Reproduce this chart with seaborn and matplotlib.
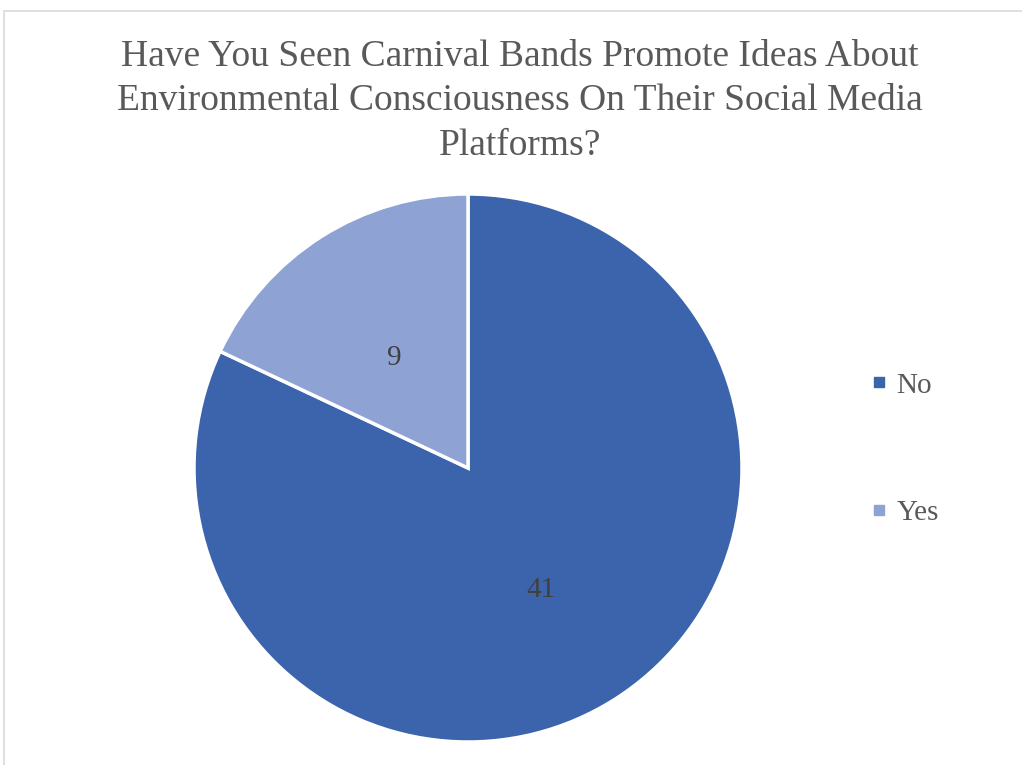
import matplotlib
matplotlib.use("Agg")
import matplotlib.pyplot as plt
import seaborn as sns
from matplotlib.patches import Rectangle
from matplotlib.lines import Line2D

categories = ["No", "Yes"]
values = [41, 9]
colors = ["#3C64AD", "#8FA2D4"]
title = "Have You Seen Carnival Bands Promote Ideas About\nEnvironmental Consciousness On Their Social Media\nPlatforms?"

sns.set_theme(style="white")
plt.rcParams['font.family'] = ['Liberation Serif', 'DejaVu Serif']

fig = plt.figure(figsize=(10.22, 7.65), dpi=100)
fig.patch.set_facecolor("white")

# outer chart border (extends beyond the right/bottom edge)
fig.add_artist(Rectangle((4/1022, -0.05), 1.2, (765-11)/765 + 0.05, transform=fig.transFigure,
                         fill=False, edgecolor="#D9D9D9", linewidth=1.2))

ax = fig.add_axes([194/1022, 23/765, 548/1022, 548/765])
wedges, texts, autotexts = ax.pie(
    values, colors=colors, startangle=90, counterclock=False,
    autopct=lambda p: f"{round(p*sum(values)/100):d}", pctdistance=0.5,
    wedgeprops=dict(edgecolor="white", linewidth=2.5),
    textprops=dict(fontsize=21, color="#404040"))
for t in autotexts:
    x, y = t.get_position()
    t.set_position((x - 0.002, y - 0.022))
ax.set_aspect("equal")
ax.set_xlim(-1, 1)
ax.set_ylim(-1, 1)
ax.axis("off")

fig.text(520/1022, 1 - 101/765, title, ha="center", va="center", fontsize=27,
         color="#595959", linespacing=1.38)

handles = [Line2D([0], [0], marker="s", linestyle="none", markersize=7,
                  markerfacecolor=c, markeredgecolor=c) for c in colors]
fig.legend(handles, categories, loc="center left", bbox_to_anchor=(838/1022, 1 - 449/765),
           frameon=False, fontsize=21, labelcolor="#595959", handletextpad=0.1,
           labelspacing=3.45, handlelength=1.0)

fig.savefig("out.png", dpi=100, facecolor="white")
